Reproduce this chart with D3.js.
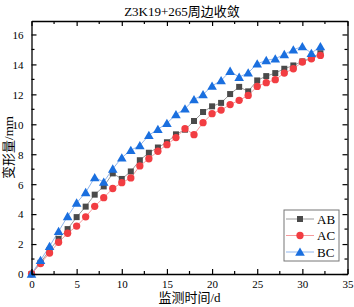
<!DOCTYPE html>
<html>
<head>
<meta charset="utf-8">
<script src="https://cdn.jsdelivr.net/npm/d3@7"></script>
<style>
  body { margin: 0; background: #fff; }
  text { font-family: "Liberation Serif", "Times New Roman", "Noto Sans CJK SC", serif; }
</style>
</head>
<body>
<div id="main"></div>
<script>
// data
var days = d3.range(0, 33);
var seriesNames = ["AB", "AC", "BC"];
var valuesAB = [0, 0.75, 1.6, 2.35, 3.0, 3.8, 4.5, 5.3, 5.85, 6.72, 6.35, 6.85, 7.6, 8.1, 8.45, 8.8, 9.33,
    9.64, 10.22, 10.82, 11.2, 11.43, 12.02, 12.5, 12.2, 12.93, 13.22, 13.42, 13.71, 13.93, 14.2, 14.44, 14.75];
var valuesAC = [0, 0.7, 1.4, 2.12, 2.72, 3.2, 3.82, 4.52, 5.1, 5.71, 6.1, 6.42, 7.22, 7.7, 8.2, 8.64, 9.11,
    9.71, 9.31, 10.11, 10.71, 10.95, 11.32, 11.6, 11.93, 12.53, 12.78, 12.98, 13.42, 13.71, 14.16, 14.38, 14.6];
var valuesBC = [0, 0.92, 1.85, 2.85, 3.85, 4.75, 5.45, 6.45, 6.15, 7.02, 7.77, 8.27, 8.58, 9.27, 9.67, 10.07, 10.65,
    11.04, 11.65, 11.99, 12.56, 12.93, 13.55, 13.15, 13.44, 14.04, 14.27, 14.38, 14.67, 14.98, 15.2, 14.75, 15.2];
var xTicks = [0, 5, 10, 15, 20, 25, 30, 35];
var yTicks = [0, 2, 4, 6, 8, 10, 12, 14, 16];

var ctx = {
    w: 354,
    h: 307,
    left: 31.5,
    right: 347.5,
    top: 21,
    bottom: 274,
};

var styles = {
    AB: {fill: "#4a4a4a", line: "#9a9a9a", symbol: d3.symbolSquare, size: 36},
    AC: {fill: "#f23d42", line: "#f59a9c", symbol: d3.symbolCircle, size: 42},
    BC: {fill: "#1a6fdf", line: "#8fb6ee", symbol: d3.symbolTriangle, size: 40},
};

var createViz = function(){
    var svg = d3.select("#main").append("svg")
        .attr("width", ctx.w)
        .attr("height", ctx.h);

    ctx.xScale = d3.scaleLinear().domain([0, 35]).range([ctx.left, ctx.right]);
    ctx.yScale = d3.scaleLinear().domain([0, 16.9]).range([ctx.bottom, ctx.top]);

    var series = [
        {name: "AB", values: valuesAB},
        {name: "AC", values: valuesAC},
        {name: "BC", values: valuesBC},
    ];

    // title
    svg.append("text")
        .attr("x", 182)
        .attr("y", 16)
        .style("text-anchor", "middle")
        .style("font-size", "13px")
        .text("Z3K19+265周边收敛");

    // data lines and markers
    var line = d3.line()
        .x(function(d, i){ return ctx.xScale(days[i]); })
        .y(function(d){ return ctx.yScale(d); });
    var dataG = svg.append("g");
    series.forEach(function(s){
        var st = styles[s.name];
        dataG.append("path")
            .attr("d", line(s.values))
            .style("fill", "none")
            .style("stroke", st.line)
            .style("stroke-width", 1);
    });
    series.forEach(function(s){
        var st = styles[s.name];
        dataG.selectAll(null)
            .data(s.values)
            .enter()
            .append("path")
            .attr("transform", function(d, i){
                var dy = s.name == "BC" ? 1 : 0;
                return "translate(" + ctx.xScale(days[i]) + "," + (ctx.yScale(d) + dy) + ")";
            })
            .attr("d", d3.symbol().type(st.symbol).size(st.size))
            .style("fill", st.fill);
    });

    // axes, ticks pointing inward
    var axG = svg.append("g").attr("id", "axes");
    var xMinor = d3.range(2.5, 35, 5);
    var yMinor = d3.range(1, 17, 2);
    var bottomAx = axG.append("g")
        .attr("transform", "translate(0," + ctx.bottom + ")")
        .call(d3.axisBottom(ctx.xScale).tickValues(xTicks).tickSizeInner(-5).tickSizeOuter(0).tickPadding(6));
    bottomAx.append("g").selectAll("line").data(xMinor).enter().append("line")
        .attr("x1", ctx.xScale).attr("x2", ctx.xScale).attr("y1", 0).attr("y2", -3);
    var topAx = axG.append("g")
        .attr("transform", "translate(0," + ctx.top + ")")
        .call(d3.axisTop(ctx.xScale).tickValues(xTicks).tickSizeInner(-5).tickSizeOuter(0).tickFormat(""));
    topAx.append("g").selectAll("line").data(xMinor).enter().append("line")
        .attr("x1", ctx.xScale).attr("x2", ctx.xScale).attr("y1", 0).attr("y2", 3);
    var leftAx = axG.append("g")
        .attr("transform", "translate(" + ctx.left + ",0)")
        .call(d3.axisLeft(ctx.yScale).tickValues(yTicks).tickSizeInner(-5).tickSizeOuter(0).tickPadding(8));
    leftAx.append("g").selectAll("line").data(yMinor).enter().append("line")
        .attr("y1", ctx.yScale).attr("y2", ctx.yScale).attr("x1", 0).attr("x2", 3);
    var rightAx = axG.append("g")
        .attr("transform", "translate(" + ctx.right + ",0)")
        .call(d3.axisRight(ctx.yScale).tickValues(yTicks).tickSizeInner(-5).tickSizeOuter(0).tickFormat(""));
    rightAx.append("g").selectAll("line").data(yMinor).enter().append("line")
        .attr("y1", ctx.yScale).attr("y2", ctx.yScale).attr("x1", 0).attr("x2", -3);

    axG.selectAll("path.domain").style("stroke", "#000").style("stroke-width", 1.3);
    axG.selectAll("line").style("stroke", "#000").style("stroke-width", 1.2);
    axG.selectAll("text")
        .style("font-family", "'Liberation Serif', serif")
        .style("font-size", "11px")
        .style("fill", "#000");
    leftAx.selectAll(".tick text").attr("dy", "0.35em");

    // axis labels
    svg.append("text")
        .attr("x", (ctx.left + ctx.right) / 2)
        .attr("y", 302)
        .style("text-anchor", "middle")
        .style("font-size", "13px")
        .text("监测时间/d");
    svg.append("text")
        .attr("transform", "translate(13," + ((ctx.top + ctx.bottom) / 2) + ") rotate(-90)")
        .style("text-anchor", "middle")
        .style("font-size", "13px")
        .text("变形量/mm");

    // legend
    var lg = svg.append("g").attr("transform", "translate(284,210)");
    lg.append("rect")
        .attr("width", 55)
        .attr("height", 51)
        .style("fill", "#fff")
        .style("stroke", "#777")
        .style("stroke-width", 1);
    seriesNames.forEach(function(name, i){
        var st = styles[name];
        var y = 9 + i * 16.5;
        lg.append("line")
            .attr("x1", 2).attr("x2", 30).attr("y1", y).attr("y2", y)
            .style("stroke", st.line).style("stroke-width", 1);
        lg.append("path")
            .attr("transform", "translate(16," + (y + (name == "BC" ? 1 : 0)) + ")")
            .attr("d", d3.symbol().type(st.symbol).size(st.size))
            .style("fill", st.fill);
        lg.append("text")
            .attr("x", 33)
            .attr("y", y + 4.5)
            .style("font-size", "13px")
            .text(name);
    });
};

createViz();
</script>
</body>
</html>
